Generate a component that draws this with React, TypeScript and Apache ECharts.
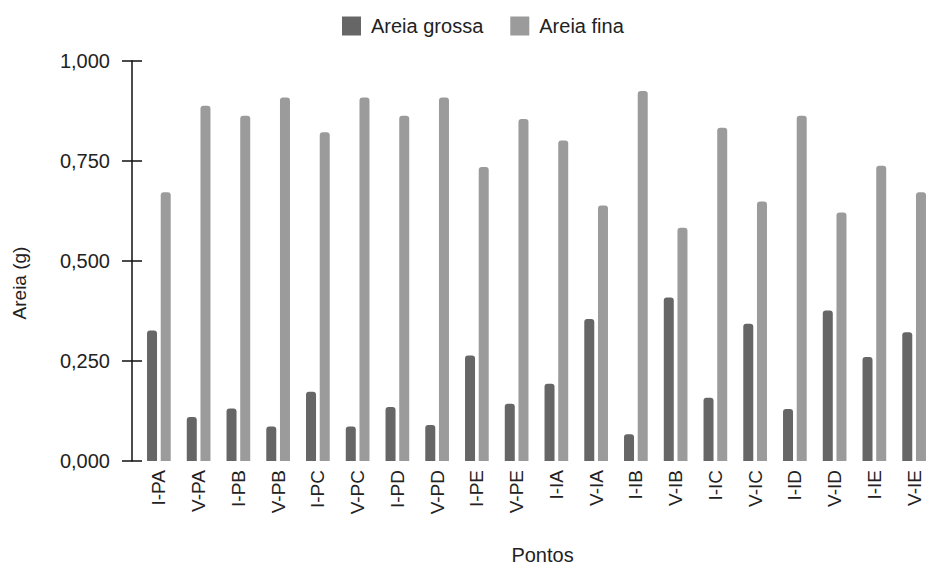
import React, { useEffect, useRef } from "react";
import * as echarts from "echarts";

const categories = [
  "I-PA", "V-PA", "I-PB", "V-PB", "I-PC", "V-PC", "I-PD", "V-PD", "I-PE", "V-PE",
  "I-IA", "V-IA", "I-IB", "V-IB", "I-IC", "V-IC", "I-ID", "V-ID", "I-IE", "V-IE",
];
const areiaGrossa = [
  0.326, 0.110, 0.131, 0.086, 0.173, 0.086, 0.135, 0.090, 0.264, 0.143,
  0.193, 0.355, 0.067, 0.409, 0.158, 0.343, 0.130, 0.376, 0.260, 0.322,
];
const areiaFina = [
  0.672, 0.888, 0.863, 0.909, 0.822, 0.909, 0.863, 0.909, 0.735, 0.855,
  0.801, 0.639, 0.925, 0.583, 0.833, 0.649, 0.863, 0.621, 0.738, 0.672,
];
const seriesNames = ["Areia grossa", "Areia fina"];

const FONT = "'Liberation Sans', Arial, sans-serif";
const TXT = "#222";

export default function App() {
  const ref = useRef<HTMLDivElement>(null);
  useEffect(() => {
    if (!ref.current) return;
    const chart = echarts.init(ref.current, undefined, { renderer: "svg" });
    const fmt = (v: number) => v.toFixed(3).replace(".", ",");
    chart.setOption({
      animation: false,
      textStyle: { fontFamily: FONT },
      legend: {
        left: 337,
        top: 11,
        itemWidth: 19,
        itemHeight: 19,
        itemGap: 27,
        icon: "rect",
        textStyle: { fontSize: 20, color: TXT, fontFamily: FONT, padding: [0, 0, 0, 5] },
        data: seriesNames,
      },
      grid: { left: 139, right: -13, top: 61, bottom: 107, containLabel: false },
      xAxis: {
        type: "category",
        data: categories,
        name: "Pontos",
        nameLocation: "middle",
        nameGap: 84,
        nameTextStyle: { fontSize: 20, color: TXT, fontFamily: FONT, padding: [0, 0, 0, 12] },
        axisLine: { show: false },
        axisTick: { show: false },
        axisLabel: { rotate: 90, margin: 9, fontSize: 19, color: TXT, fontFamily: FONT, interval: 0 },
      },
      yAxis: [
        {
          type: "value",
          min: 0,
          max: 1,
          interval: 0.25,
          offset: 7,
          name: "Areia (g)",
          nameLocation: "middle",
          nameGap: 103,
          nameTextStyle: { fontSize: 19, color: TXT, fontFamily: FONT, padding: [0, 44, 0, 0] },
          axisLine: { show: true, lineStyle: { color: "#111", width: 1.5 } },
          axisTick: { show: true, length: 10, lineStyle: { color: "#111", width: 1.5 } },
          axisLabel: { margin: 22, fontSize: 20, color: TXT, fontFamily: FONT, formatter: fmt },
          splitLine: { show: false },
        },
        {
          type: "value",
          position: "left",
          min: 0,
          max: 1,
          interval: 0.25,
          offset: 7,
          axisLine: { show: false },
          axisTick: { show: true, inside: true, length: 10, lineStyle: { color: "#111", width: 1.5 } },
          axisLabel: { show: false },
          splitLine: { show: false },
        },
      ],
      series: [
        {
          name: seriesNames[0],
          type: "bar",
          data: areiaGrossa,
          barWidth: 10,
          barGap: "37%",
          itemStyle: { color: "#666666", borderRadius: [3, 3, 0, 0] },
        },
        {
          name: seriesNames[1],
          type: "bar",
          data: areiaFina,
          barWidth: 10,
          barGap: "37%",
          itemStyle: { color: "#9b9b9b", borderRadius: [3, 3, 0, 0] },
        },
      ],
    });
    return () => chart.dispose();
  }, []);
  return <div ref={ref} style={{ width: 934, height: 570, position: "absolute", left: 0, top: 0 }} />;
}
